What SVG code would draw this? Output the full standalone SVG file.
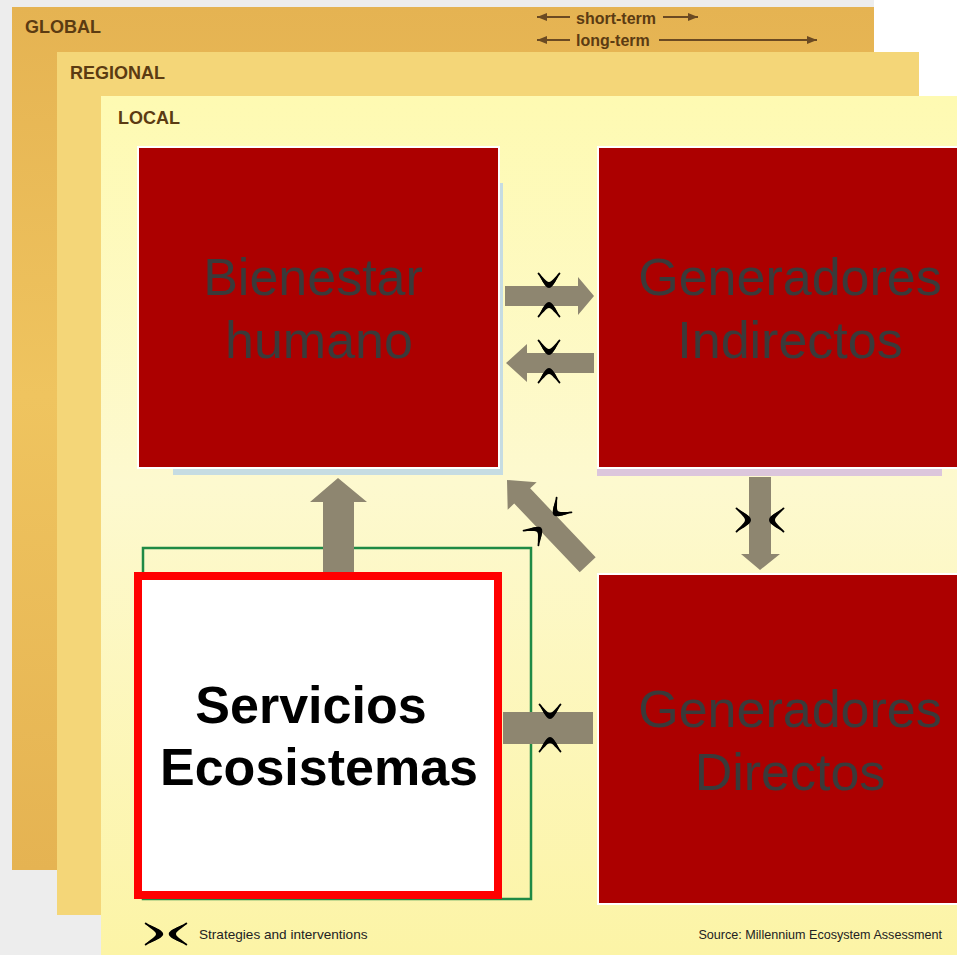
<svg xmlns="http://www.w3.org/2000/svg" width="957" height="955" viewBox="0 0 957 955">
<defs>
<style>
.lvl{font-family:"Liberation Sans",Arial,sans-serif;font-weight:bold;font-size:18px;fill:#5b3b12}
.term{font-family:"Liberation Sans",Arial,sans-serif;font-weight:bold;font-size:16px;fill:#5b3b12}
.tl{stroke:#6b4a22;stroke-width:2;fill:none}
.big{font-family:"Liberation Sans",Arial,sans-serif;font-size:52px;fill:#3a3a3a;text-anchor:middle}
.bigb{font-family:"Liberation Sans",Arial,sans-serif;font-size:52px;font-weight:bold;fill:#000;text-anchor:middle}
.arr{fill:#8e8670}
.small{font-family:"Liberation Sans",Arial,sans-serif;fill:#222}
</style>
<linearGradient id="loc" x1="0" y1="0" x2="0" y2="1">
<stop offset="0" stop-color="#fefab2"/>
<stop offset="0.45" stop-color="#fdf9cf"/>
<stop offset="1" stop-color="#fcf4a6"/>
</linearGradient>
<linearGradient id="glob" x1="0" y1="0" x2="0" y2="1">
<stop offset="0" stop-color="#e5b352"/>
<stop offset="0.45" stop-color="#efc45f"/>
<stop offset="1" stop-color="#e5b352"/>
</linearGradient>
<g id="cres">
<path d="M-11,-9 C-8,-6 -5,6 0,6 C5,6 8,-6 11,-9 C6,-6 3,0 0,0 C-3,0 -6,-6 -11,-9 Z" fill="#000"/>
<path d="M-10.5,-8.5 C-7.5,-6 -5,4 0,4 C5,4 7.5,-6 10.5,-8.5" fill="none" stroke="#000" stroke-width="1.8" stroke-linecap="round"/>
</g>
<marker id="ah" viewBox="0 0 10 8" refX="10" refY="4" markerWidth="10" markerHeight="8" markerUnits="userSpaceOnUse" orient="auto">
<path d="M0,0 L10,4 L0,8 Z" fill="#6b4a22"/>
</marker>
</defs>

<g id="background">
<rect x="0" y="0" width="957" height="955" fill="#ededed"/>
<rect x="874" y="0" width="83" height="96" fill="#ffffff"/>
</g>

<g id="global">
<rect x="12" y="7" width="862" height="863" fill="url(#glob)"/>
<text class="lvl" x="25" y="33">GLOBAL</text>
</g>
<g id="regional">
<rect x="57" y="52" width="862" height="863" fill="#f4d678"/>
<text class="lvl" x="70" y="79">REGIONAL</text>
</g>
<g id="local">
<rect x="101" y="96" width="856" height="859" fill="url(#loc)"/>
<text class="lvl" x="118" y="124">LOCAL</text>
</g>

<g id="timescale">
<text class="term" x="576" y="24">short-term</text>
<line class="tl" x1="570" y1="17" x2="537" y2="17" marker-end="url(#ah)"/>
<line class="tl" x1="663" y1="17" x2="698" y2="17" marker-end="url(#ah)"/>
<text class="term" x="576" y="46">long-term</text>
<line class="tl" x1="570" y1="40" x2="537" y2="40" marker-end="url(#ah)"/>
<line class="tl" x1="659" y1="40" x2="817" y2="40" marker-end="url(#ah)"/>
</g>

<g id="ecosystem-frame">
<rect x="143" y="548" width="388" height="351" fill="none" stroke="#1f8a45" stroke-width="2.5"/>
</g>

<g id="connectors">
<path class="arr" d="M505,286 H578 V277 L594,296 L578,315 V306 H505 Z"/>
<path class="arr" d="M594,353 H527 V344 L506,363 L527,382 V373 H594 Z"/>
<path class="arr" d="M323,572 V502 H310 L338,478 L367,502 H354 V572 Z"/>
<path class="arr" d="M749,477 H771 V554 H780 L760,570 L741,554 H749 Z"/>
<rect class="arr" x="503" y="712" width="90" height="32"/>
<g transform="translate(507,480) rotate(-43.6)">
<path class="arr" d="M0,0 L20,22 H11 V117 H-11 V22 H-20 Z"/>
</g>
<use href="#cres" transform="translate(549,282)"/>
<use href="#cres" transform="translate(549,308) rotate(180)"/>
<use href="#cres" transform="translate(549,349)"/>
<use href="#cres" transform="translate(549,374) rotate(180)"/>
<use href="#cres" transform="translate(550,713)"/>
<use href="#cres" transform="translate(550,743) rotate(180)"/>
<use href="#cres" transform="translate(745,520) rotate(-90) scale(1.1,1)"/>
<use href="#cres" transform="translate(775,520) rotate(90) scale(1.1,1)"/>
<use href="#cres" transform="translate(558,511) rotate(45)"/>
<use href="#cres" transform="translate(537,532) rotate(225)"/>
</g>

<g id="bienestar">
<rect x="173" y="183" width="330" height="292" fill="#c6dce2"/>
<rect x="137" y="146" width="363" height="323" fill="#ffffff"/>
<rect x="139" y="148" width="359" height="319" fill="#ac0000"/>
<text class="big" x="313" y="295">Bienestar</text>
<text class="big" x="319" y="358">humano</text>
</g>

<g id="indirectos">
<rect x="597" y="180" width="345" height="296" fill="#dcc6dc"/>
<rect x="597" y="146" width="362" height="323" fill="#ffffff"/>
<rect x="599" y="148" width="360" height="319" fill="#ac0000"/>
<text class="big" x="790" y="295">Generadores</text>
<text class="big" x="790" y="358">Indirectos</text>
</g>

<g id="directos">
<rect x="597" y="573" width="362" height="332" fill="#ffffff"/>
<rect x="599" y="575" width="360" height="328" fill="#ac0000"/>
<text class="big" x="790" y="727">Generadores</text>
<text class="big" x="790" y="790">Directos</text>
</g>

<g id="servicios">
<rect x="138" y="576" width="360" height="319" fill="#ffffff" stroke="#ff0000" stroke-width="8"/>
<text class="bigb" x="311" y="723">Servicios</text>
<text class="bigb" x="319" y="785">Ecosistemas</text>
</g>

<g id="legend">
<use href="#cres" transform="translate(156,934) rotate(-90) scale(1,1.2)"/>
<use href="#cres" transform="translate(176,934) rotate(90) scale(1,1.2)"/>
<text class="small" x="199" y="939" font-size="13.6">Strategies and interventions</text>
<text class="small" x="942" y="939" font-size="12.6" text-anchor="end">Source: Millennium Ecosystem Assessment</text>
</g>
</svg>
